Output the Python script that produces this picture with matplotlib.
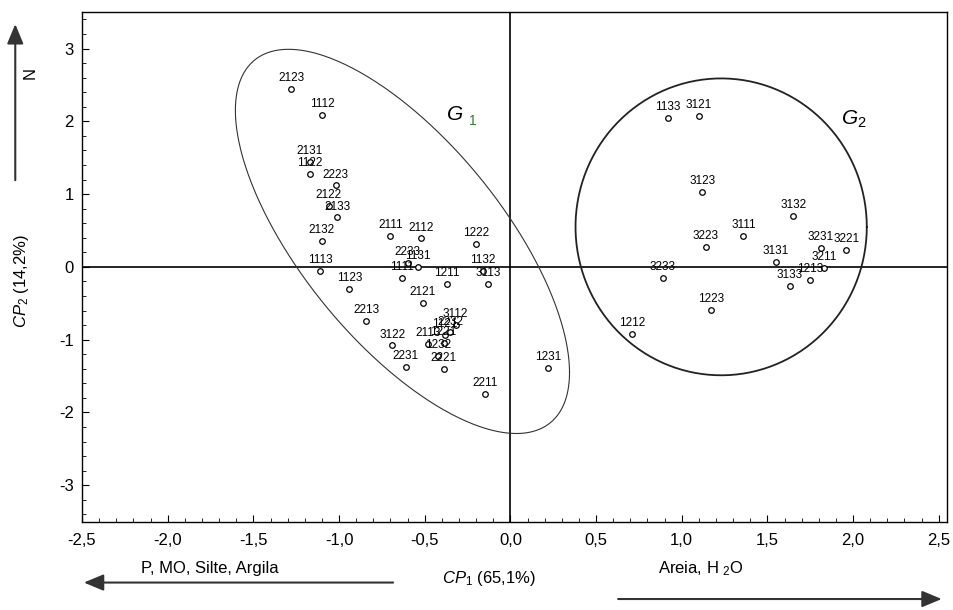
import numpy as np
import matplotlib.pyplot as plt
from matplotlib.ticker import MultipleLocator, FuncFormatter

plt.rcParams['font.family'] = ['Liberation Sans', 'DejaVu Sans']
plt.rcParams['mathtext.fontset'] = 'custom'
plt.rcParams['mathtext.rm'] = 'Liberation Sans'
plt.rcParams['mathtext.it'] = 'Liberation Sans:italic'

# amostras (escores CP1 x CP2)
labels = ['2123', '1112', '2131', '1122', '2223', '2122', '2133', '2132',
          '2111', '2112', '1222', '1113', '2233', '1131', '1111', '1211',
          '1132', '3113', '1123', '2121', '2213', '3112', '1121', '2232',
          '2113', '1221', '1232', '3122', '2231', '2221', '2211', '1231',
          '1133', '3121', '3123', '3132', '3111', '3223', '3231', '3221',
          '3211', '3131', '3133', '1213', '3233', '1223', '1212']
cp1 = [-1.28, -1.10, -1.17, -1.17, -1.02, -1.06, -1.01, -1.10,
       -0.70, -0.52, -0.20, -1.11, -0.60, -0.54, -0.63, -0.37,
       -0.16, -0.13, -0.94, -0.51, -0.84, -0.32, -0.38, -0.35,
       -0.48, -0.39, -0.42, -0.69, -0.61, -0.39, -0.15, 0.22,
       0.92, 1.10, 1.12, 1.65, 1.36, 1.14, 1.81, 1.96,
       1.83, 1.55, 1.63, 1.75, 0.89, 1.17, 0.71]
cp2 = [2.44, 2.09, 1.44, 1.28, 1.12, 0.84, 0.68, 0.36,
       0.42, 0.39, 0.32, -0.05, 0.06, 0.00, -0.15, -0.23,
       -0.05, -0.23, -0.30, -0.50, -0.74, -0.80, -0.94, -0.90,
       -1.06, -1.04, -1.22, -1.08, -1.38, -1.40, -1.75, -1.39,
       2.05, 2.07, 1.03, 0.70, 0.42, 0.27, 0.26, 0.23,
       -0.01, 0.07, -0.26, -0.18, -0.15, -0.59, -0.92]

# grupos: centro, semi-eixos
g1_centro = (-0.63, 0.35)
g1_semi = (0.975, 2.64)
g1_fase = np.deg2rad(47)
g2_centro = (1.23, 0.55)
g2_semi = (0.85, 2.04)

fig = plt.figure(figsize=(9.54, 6.10), dpi=100)
ax = fig.add_axes([0.086, 0.145, 0.907, 0.835])

ax.axhline(0, color='black', lw=1.2, zorder=1)
ax.axvline(0, color='black', lw=1.2, zorder=1)

t = np.linspace(0, 2 * np.pi, 400)
ax.plot(g1_centro[0] + g1_semi[0] * np.cos(t),
        g1_centro[1] - g1_semi[1] * np.cos(t + g1_fase),
        color='#333333', lw=0.8)
ax.plot(g2_centro[0] + g2_semi[0] * np.cos(t),
        g2_centro[1] + g2_semi[1] * np.sin(t),
        color='#222222', lw=1.3)

ax.plot(cp1, cp2, 'o', ms=4, mfc='white', mec='black', mew=0.9, zorder=3)
for lab, x, y in zip(labels, cp1, cp2):
    ax.annotate(lab, (x, y), xytext=(0, 3.5), textcoords='offset points',
                ha='center', va='bottom', fontsize=8.5)

ax.text(-0.37, 2.02, 'G', fontsize=15, style='italic')
ax.text(-0.24, 1.95, '1', fontsize=10, color='#2e7d32')
ax.text(1.93, 1.95, '$G_2$', fontsize=15)

ax.set_xlim(-2.5, 2.55)
ax.set_ylim(-3.5, 3.5)
ax.xaxis.set_major_locator(MultipleLocator(0.5))
ax.xaxis.set_minor_locator(MultipleLocator(0.1))
ax.yaxis.set_major_locator(MultipleLocator(1))
ax.yaxis.set_minor_locator(MultipleLocator(0.2))
ax.xaxis.set_major_formatter(FuncFormatter(lambda v, p: ('%.1f' % v).replace('.', ',')))
ax.yaxis.set_major_formatter(FuncFormatter(lambda v, p: '%d' % v))
ax.tick_params(which='both', direction='in', labelsize=12)
ax.tick_params(which='major', length=5)
ax.tick_params(which='minor', length=3)
ax.tick_params(axis='x', pad=8)
ax.tick_params(axis='y', pad=6)
for s in ax.spines.values():
    s.set_linewidth(1.0)

# rotulos dos eixos e setas
fig.text(0.513, 0.052, '$CP_1$ (65,1%)', ha='center', va='center', fontsize=12)
fig.text(0.023, 0.54, '$CP_2$ (14,2%)', ha='center', va='center', fontsize=12, rotation=90)
fig.text(0.22, 0.068, 'P, MO, Silte, Argila', ha='center', va='center', fontsize=12)
fig.text(0.735, 0.068, 'Areia, H $_2$O', ha='center', va='center', fontsize=12)
fig.text(0.032, 0.88, 'N', ha='center', va='center', fontsize=12, rotation=90)

arrow = dict(arrowstyle='-|>,head_length=1.2,head_width=0.5', color='#333333', lw=1.5)
fig.add_artist(plt.Annotation('', xy=(0.085, 0.045), xytext=(0.415, 0.045),
                              xycoords='figure fraction', arrowprops=arrow))
fig.add_artist(plt.Annotation('', xy=(0.99, 0.018), xytext=(0.645, 0.018),
                              xycoords='figure fraction', arrowprops=arrow))
fig.add_artist(plt.Annotation('', xy=(0.016, 0.965), xytext=(0.016, 0.70),
                              xycoords='figure fraction', arrowprops=arrow))

fig.savefig('out.png', dpi=100)
